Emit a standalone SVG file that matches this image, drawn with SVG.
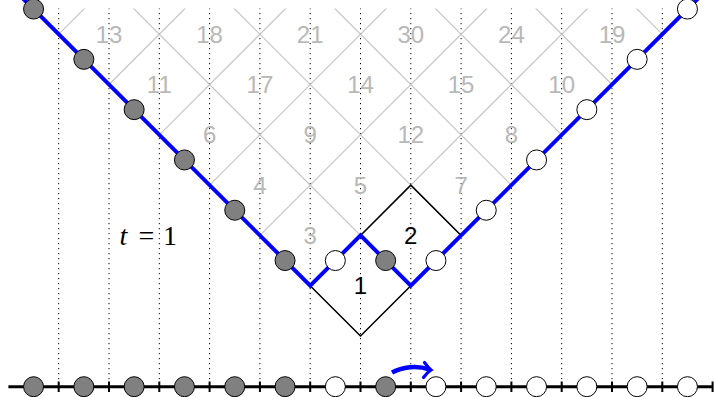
<svg xmlns="http://www.w3.org/2000/svg" width="714" height="397" viewBox="0 0 714 397">
<style>
.grid{stroke:#c4c4c4;stroke-width:1.1;fill:none}
.dot{stroke:#000;stroke-width:1;stroke-dasharray:1.2 3.8;fill:none}
.cell{stroke:#000;stroke-width:1.5;fill:none}
.path{stroke:#0000ff;stroke-width:4;fill:none;stroke-linejoin:miter}
.lbl{font-family:"Liberation Sans","DejaVu Sans",sans-serif;font-size:24px;fill:#b8b8b8;text-anchor:middle}
.lblk{font-family:"Liberation Sans","DejaVu Sans",sans-serif;font-size:24px;fill:#000;text-anchor:middle}
.full{fill:#808080;stroke:#000;stroke-width:1}
.empty{fill:#fff;stroke:#000;stroke-width:1}
.axis{stroke:#000;stroke-width:3}
.tick{stroke:#000;stroke-width:2}
</style>
<defs>
<clipPath id="top"><rect x="0" y="8.5" width="714" height="400"/></clipPath>
</defs>
<g id="guides" clip-path="url(#top)">
<path class="dot" d="M58.7,8V387M109,8V387M159.3,8V387M209.6,8V387M259.9,8V387M310.2,8V387M360.5,8V387M410.8,8V387M461.1,8V387M511.4,8V387M561.7,8V387M612,8V387M662.3,8V387"/>
</g>
<g id="grid" clip-path="url(#top)">
<path class="grid" d="M310.2,285.7L587.9,8M259.9,235.4L487.3,8M209.6,185.1L386.7,8M159.3,134.8L286.1,8M109,84.5L185.5,8M58.7,34.2L84.9,8"/>
<path class="grid" d="M410.8,285.7L133.1,8M461.1,235.4L233.7,8M511.4,185.1L334.3,8M561.7,134.8L434.9,8M612,84.5L535.5,8M662.3,34.2L636.1,8"/>
</g>
<g id="labels">
<text class="lbl" x="310.2" y="244">3</text>
<text class="lbl" x="259.9" y="193.7">4</text>
<text class="lbl" x="360.5" y="193.7">5</text>
<text class="lbl" x="461.1" y="193.7">7</text>
<text class="lbl" x="209.6" y="143.4">6</text>
<text class="lbl" x="310.2" y="143.4">9</text>
<text class="lbl" x="410.8" y="143.4">12</text>
<text class="lbl" x="511.4" y="143.4">8</text>
<text class="lbl" x="159.3" y="93.1">11</text>
<text class="lbl" x="259.9" y="93.1">17</text>
<text class="lbl" x="360.5" y="93.1">14</text>
<text class="lbl" x="461.1" y="93.1">15</text>
<text class="lbl" x="561.7" y="93.1">10</text>
<text class="lbl" x="109" y="42.8">13</text>
<text class="lbl" x="209.6" y="42.8">18</text>
<text class="lbl" x="310.2" y="42.8">21</text>
<text class="lbl" x="410.8" y="42.8">30</text>
<text class="lbl" x="511.4" y="42.8">24</text>
<text class="lbl" x="612" y="42.8">19</text>
</g>
<g id="cell1">
<path class="cell" d="M360.5,336L310.2,285.7L360.5,235.4L410.8,285.7Z"/>
<text class="lblk" x="360.5" y="294.3">1</text>
</g>
<g id="cell2">
<path class="cell" d="M410.8,285.7L360.5,235.4L410.8,185.1L461.1,235.4Z"/>
<text class="lblk" x="410.8" y="244">2</text>
</g>
<g id="connectors">
<path class="path" d="M8.4,-16.1L310.2,285.7L360.5,235.4L410.8,285.7L712.6,-16.1"/>
</g>
<g id="pathParticles">
<circle class="full" cx="33.55" cy="9.05" r="10"/>
<circle class="full" cx="83.85" cy="59.35" r="10"/>
<circle class="full" cx="134.15" cy="109.65" r="10"/>
<circle class="full" cx="184.45" cy="159.95" r="10"/>
<circle class="full" cx="234.75" cy="210.25" r="10"/>
<circle class="full" cx="285.05" cy="260.55" r="10"/>
<circle class="empty" cx="335.35" cy="260.55" r="10"/>
<circle class="full" cx="385.65" cy="260.55" r="10"/>
<circle class="empty" cx="435.95" cy="260.55" r="10"/>
<circle class="empty" cx="486.25" cy="210.25" r="10"/>
<circle class="empty" cx="536.55" cy="159.95" r="10"/>
<circle class="empty" cx="586.85" cy="109.65" r="10"/>
<circle class="empty" cx="637.15" cy="59.35" r="10"/>
<circle class="empty" cx="687.45" cy="9.05" r="10"/>
</g>
<g id="time">
<text font-family="Liberation Serif,serif" font-size="28" fill="#000"><tspan x="119.5" y="245" font-style="italic">t</tspan><tspan x="138.5" y="245">=</tspan><tspan x="163" y="245">1</tspan></text>
</g>
<g id="axis">
<line class="axis" x1="8.4" y1="386.7" x2="712.6" y2="386.7"/>
<path class="tick" d="M58.7,381.5V392M109,381.5V392M159.3,381.5V392M209.6,381.5V392M259.9,381.5V392M310.2,381.5V392M360.5,381.5V392M410.8,381.5V392M461.1,381.5V392M511.4,381.5V392M561.7,381.5V392M612,381.5V392M662.3,381.5V392M712.6,381.5V392"/>
</g>
<g id="lineParticles">
<circle class="full" cx="33.55" cy="386.7" r="10"/>
<circle class="full" cx="83.85" cy="386.7" r="10"/>
<circle class="full" cx="134.15" cy="386.7" r="10"/>
<circle class="full" cx="184.45" cy="386.7" r="10"/>
<circle class="full" cx="234.75" cy="386.7" r="10"/>
<circle class="full" cx="285.05" cy="386.7" r="10"/>
<circle class="empty" cx="335.35" cy="386.7" r="10"/>
<circle class="full" cx="385.65" cy="386.7" r="10"/>
<circle class="empty" cx="435.95" cy="386.7" r="10"/>
<circle class="empty" cx="486.25" cy="386.7" r="10"/>
<circle class="empty" cx="536.55" cy="386.7" r="10"/>
<circle class="empty" cx="586.85" cy="386.7" r="10"/>
<circle class="empty" cx="637.15" cy="386.7" r="10"/>
<circle class="empty" cx="687.45" cy="386.7" r="10"/>
</g>
<g id="jump">
<path d="M392,372.5C402,367 417,365 429,369.5" stroke="#0000ff" stroke-width="4.5" fill="none"/>
<path d="M424.5,362.5Q428,367.5 431,370Q427,372.5 423.5,377.5" stroke="#0000ff" stroke-width="3.2" fill="none" stroke-linecap="round"/>
</g>
</svg>
